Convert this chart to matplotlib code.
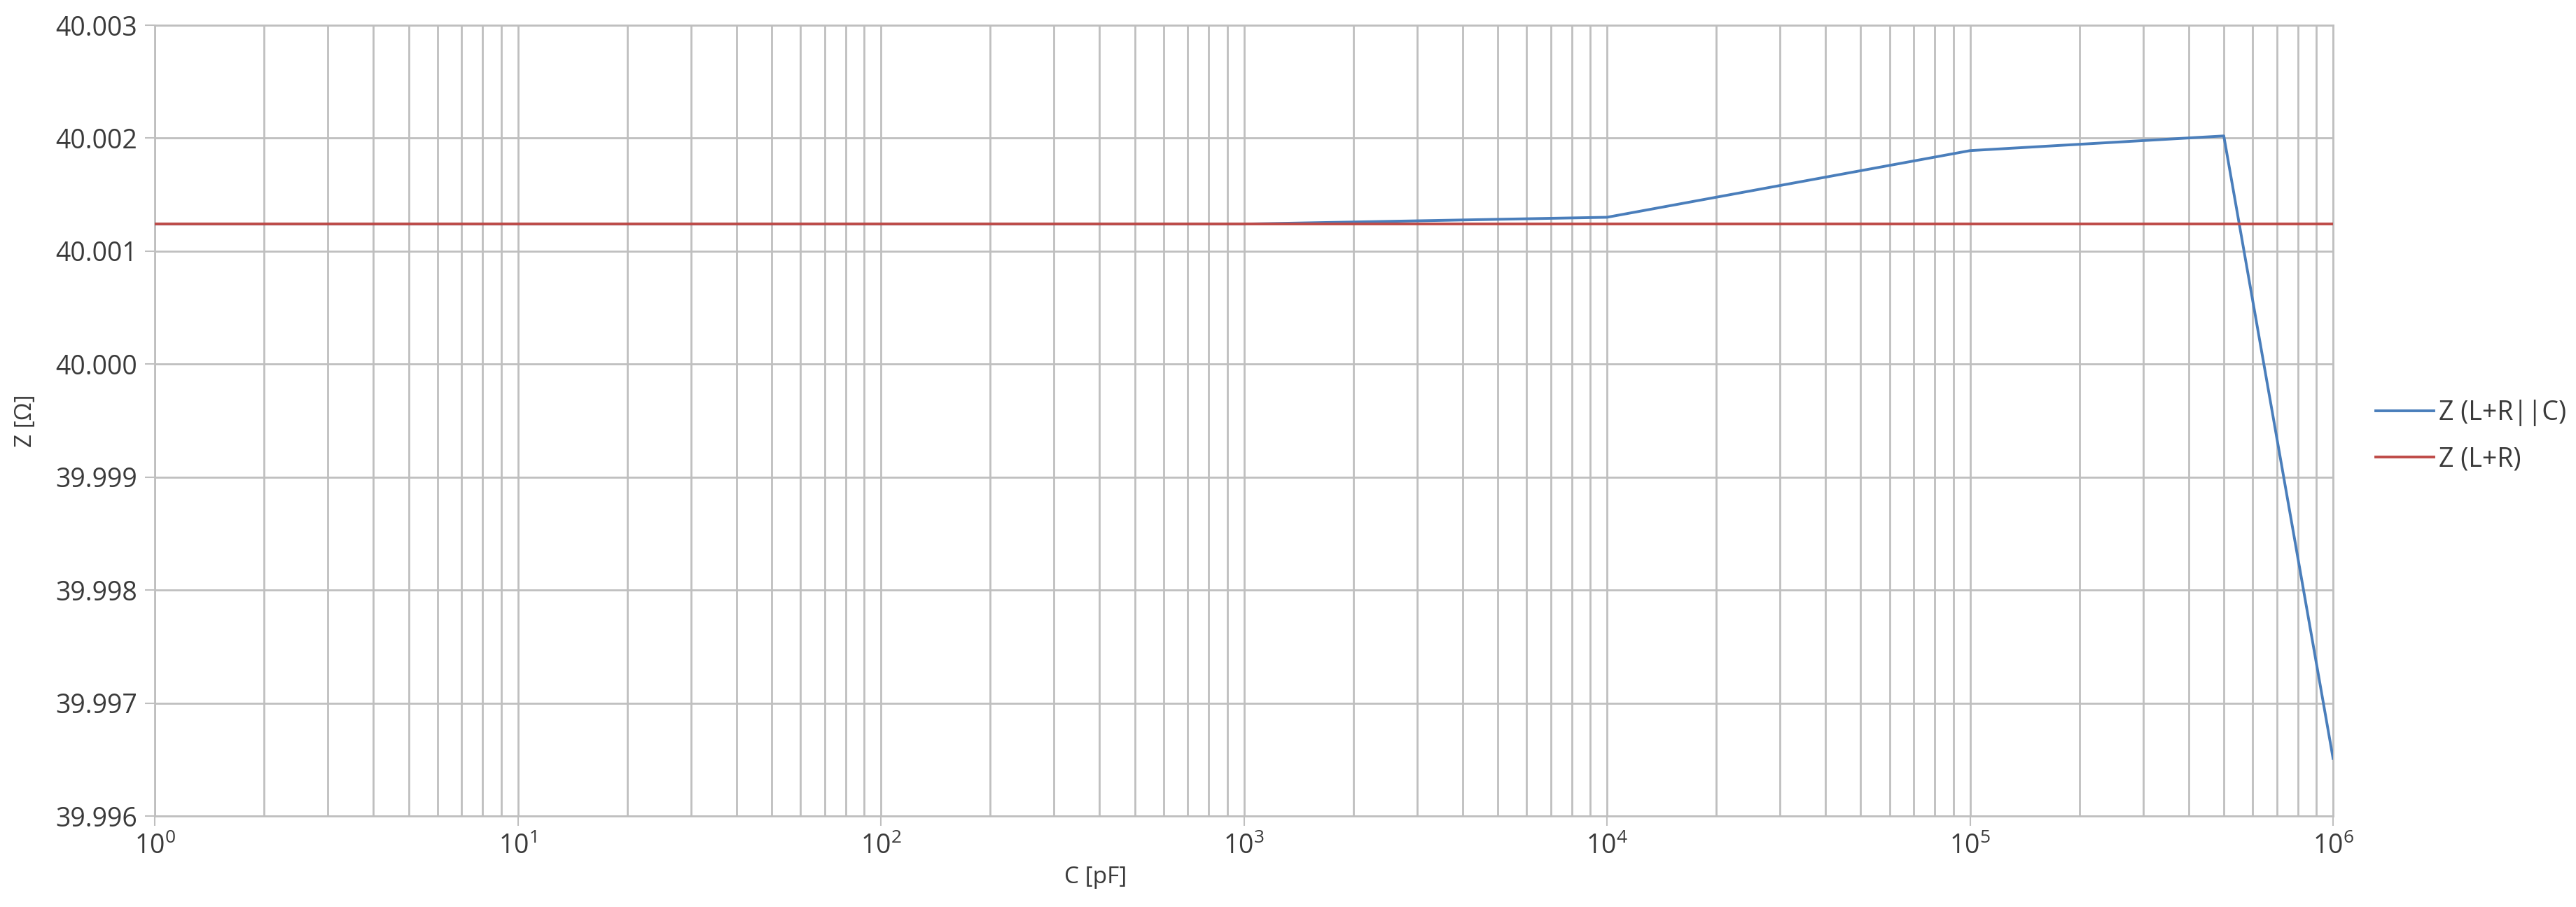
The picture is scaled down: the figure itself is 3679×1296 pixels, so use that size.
import numpy as np
import matplotlib.pyplot as plt
from matplotlib.ticker import LogLocator, NullFormatter, FormatStrFormatter

plt.rcParams['font.family'] = ['Open Sans', 'DejaVu Sans']
plt.rcParams['mathtext.fontset'] = 'custom'
plt.rcParams['mathtext.rm'] = 'Open Sans'
plt.rcParams['mathtext.default'] = 'regular'

# capacitance values [pF]
c_pf = [1, 10, 100, 1000, 10000, 100000, 500000, 1000000]
# impedance of L+R in parallel with C
z_lrc = [40.00124, 40.00124, 40.00124, 40.00124, 40.00130, 40.00189, 40.00202, 39.99651]
# impedance of L+R alone
z_lr = [40.00124, 40.00124, 40.00124, 40.00124, 40.00124, 40.00124, 40.00124, 40.00124]

y_ticks = [39.996, 39.997, 39.998, 39.999, 40.000, 40.001, 40.002, 40.003]

grid_col = '#bfbfbf'
text_col = '#3a3a3a'
fs = 27

fig = plt.figure(figsize=(36.79, 12.96), dpi=100)
ax = fig.add_axes([0.0601, 0.1003, 0.8456, 0.8719])

ax.plot(c_pf, z_lrc, color='#4a7ebb', lw=2.8, label='Z (L+R||C)', zorder=3)
ax.plot(c_pf, z_lr, color='#be4b48', lw=2.8, label='Z (L+R)', zorder=3)

ax.set_xscale('log')
ax.set_xlim(1, 1e6)
ax.set_ylim(39.996, 40.003)
ax.set_yticks(y_ticks)
ax.yaxis.set_major_formatter(FormatStrFormatter('%.3f'))
ax.xaxis.set_major_locator(LogLocator(base=10))
ax.xaxis.set_minor_locator(LogLocator(base=10, subs=np.arange(2, 10)))
ax.xaxis.set_minor_formatter(NullFormatter())

ax.grid(which='major', axis='both', color=grid_col, lw=2, zorder=0)
ax.grid(which='minor', axis='x', color=grid_col, lw=2, zorder=0)
ax.set_axisbelow(True)

for s in ax.spines.values():
    s.set_color(grid_col)
    s.set_linewidth(2)

ax.tick_params(which='major', length=10, width=1.5, color=grid_col,
               labelsize=fs, labelcolor=text_col, pad=8)
ax.tick_params(which='minor', length=0)

ax.set_xlabel('C [pF]', fontsize=fs - 3, color=text_col)
ax.set_ylabel('Z [Ω]', fontsize=fs - 3, color=text_col)
ax.xaxis.set_label_coords(0.432, -0.063)
ax.yaxis.set_label_coords(-0.054, 0.5)

leg = ax.legend(loc='center left', bbox_to_anchor=(1.0196, 0.4805), frameon=False,
                fontsize=fs, handlelength=2.2, handletextpad=0.2,
                borderpad=0, borderaxespad=0, labelspacing=0.75)
for t in leg.get_texts():
    t.set_color(text_col)

plt.savefig('out.png', dpi=100)
